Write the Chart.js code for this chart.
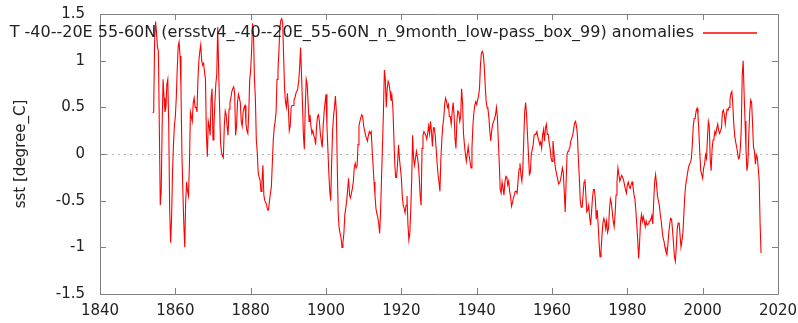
<!DOCTYPE html>
<html>
<head>
<meta charset="utf-8">
<script src="https://cdn.jsdelivr.net/npm/chart.js@4.4.1/dist/chart.umd.min.js"></script>
<style>
  html, body { margin: 0; padding: 0; background: #fff; }
  #wrap { width: 798px; height: 323px; }
</style>
</head>
<body>
<div id="wrap"><canvas id="sstChart"></canvas></div>
<script>
const seriesLabel = 'T -40--20E 55-60N (ersstv4_-40--20E_55-60N_n_9month_low-pass_box_99) anomalies';
const yTitle = 'sst [degree_C]';

// quarterly samples of the low-pass anomaly, one row per year
const firstYear = 1854;
const stepYears = 0.25;
const anomalies = [
  0.44, 0.45, 1.2, 1.42,      // 1854
  1.3, 1.15, 1.1, 0.3,
  -0.55, -0.4, 0.3, 0.8,
  0.6, 0.45, 0.5, 0.75,
  0.8, 0.3, -0.6, -0.95,
  -0.7, -0.2, 0.1, 0.3,
  0.4, 0.6, 0.9, 1.15,        // 1860
  1.2, 1.05, 0.7, 0.0,
  -0.4, -0.75, -1.0, -0.5,
  -0.3, -0.4, -0.45, -0.1,
  0.45, 0.4, 0.35, 0.55,
  0.6, 0.5, 0.5, 0.45,
  0.8, 1.0, 1.1, 1.17,
  1.0, 0.95, 0.97, 0.88,
  0.8, 0.2, -0.03, 0.35,
  0.3, 0.2, 0.6, 0.7,
  0.15, 0.3, 0.55, 0.75,      // 1870
  0.85, 1.36, 0.9, 0.5,
  0.12, 0.02, -0.02, -0.04,
  0.3, 0.46, 0.42, 0.3,
  0.2, 0.48, 0.55, 0.6,
  0.67, 0.7, 0.72, 0.65,
  0.2, 0.3, 0.55, 0.64,
  0.6, 0.55, 0.35, 0.3,
  0.45, 0.5, 0.52, 0.33,
  0.25, 0.22, 0.45, 0.8,
  0.9, 1.1, 1.4, 1.3,         // 1880
  0.8, 0.6, 0.15, 0.02,
  -0.2, -0.25, -0.28, -0.4,
  -0.3, -0.12, -0.44, -0.5,
  -0.52, -0.55, -0.6, -0.6,
  -0.5, -0.42, -0.35, -0.1,
  0.15, 0.28, 0.35, 0.45,
  0.8, 0.9, 1.1, 1.35,
  1.43, 1.45, 1.4, 1.05,
  0.7, 0.55, 0.5, 0.65,
  0.5, 0.25, 0.3, 0.5,        // 1890
  0.52, 0.52, 0.58, 0.6,
  0.65, 0.67, 0.7, 0.78,
  0.92, 1.14, 0.85, 0.55,
  0.2, 0.05, 0.5, 0.8,
  0.75, 0.55, 0.35, 0.42,
  0.3, 0.22, 0.25, 0.2,
  0.17, 0.1, 0.3, 0.4,
  0.42, 0.35, 0.22, 0.14,
  0.07, 0.3, 0.45, 0.55,
  0.64, 0.3, 0.05, -0.2,      // 1900
  -0.4, -0.5, -0.1, 0.25,
  0.4, 0.5, 0.62, 0.45,
  -0.15, -0.65, -0.8, -0.85,
  -0.9, -1.0, -0.95, -0.85,
  -0.65, -0.58, -0.5, -0.38,
  -0.26, -0.44, -0.47, -0.42,
  -0.37, -0.3, -0.15, -0.1,
  -0.15, -0.13, 0.1, 0.3,
  0.35, 0.39, 0.42, 0.4,
  0.3, 0.25, 0.2, 0.17,       // 1910
  0.14, 0.2, 0.24, 0.22,
  0.24, 0.05, -0.12, -0.3,
  -0.44, -0.58, -0.64, -0.68,
  -0.75, -0.85, -0.6, -0.25,
  0.1, 0.45, 0.9, 0.8,
  0.5, 0.7, 0.78, 0.75,
  0.67, 0.57, 0.62, 0.5,
  0.2, -0.1, -0.25, -0.25,
  -0.1, 0.1, -0.05, -0.15,
  -0.25, -0.45, -0.55, -0.58, // 1920
  -0.63, -0.55, -0.45, -0.75,
  -0.92, -0.85, -0.6, -0.28,
  0.2, -0.05, -0.12, -0.05,
  0.03, -0.03, -0.1, -0.25,
  -0.45, -0.55, 0.06, 0.2,
  0.24, 0.22, 0.2, 0.16,
  0.22, 0.3, 0.22, 0.35,
  0.24, 0.08, 0.28, 0.28,
  0.2, 0.05, -0.1, -0.22,
  -0.3, -0.4, -0.05, 0.15,    // 1930
  0.3, 0.38, 0.53, 0.6,
  0.56, 0.5, 0.53, 0.4,
  0.4, 0.32, 0.45, 0.55,
  0.42, 0.17, 0.06, 0.35,
  0.46, 0.45, 0.35, 0.4,
  0.7, 0.55, 0.22, 0.1,
  0.0, -0.08, 0.0, 0.08,
  -0.02, -0.08, -0.15, 0.06,
  0.3, 0.44, 0.52, 0.56,
  0.53, 0.58, 0.62, 0.7,      // 1940
  0.95, 1.08, 1.1, 1.07,
  0.95, 0.75, 0.57, 0.5,
  0.48, 0.39, 0.24, 0.14,
  0.25, 0.32, 0.35, 0.38,
  0.42, 0.5, 0.4, 0.14,
  -0.1, -0.38, -0.42, -0.3,
  -0.37, -0.44, -0.3, -0.24,
  -0.25, -0.33, -0.29, -0.4,
  -0.45, -0.56, -0.52, -0.47,
  -0.44, -0.4, -0.4, -0.42,   // 1950
  -0.28, -0.16, -0.1, -0.22,
  -0.29, -0.17, 0.15, 0.45,
  0.55, 0.42, 0.2, 0.0,
  -0.22, -0.2, 0.0, 0.05,
  0.1, 0.2, 0.21, 0.22,
  0.24, 0.18, 0.14, 0.1,
  0.13, 0.06, 0.2, 0.26,
  0.14, 0.28, 0.32, 0.21,
  0.21, 0.12, 0.06, -0.04,
  -0.08, 0.14, 0.03, -0.1,    // 1960
  -0.17, -0.22, -0.27, -0.32,
  -0.31, -0.28, -0.22, -0.15,
  -0.2, -0.4, -0.62, -0.3,
  0.0, 0.03, 0.05, 0.07,
  0.14, 0.17, 0.2, 0.27,
  0.33, 0.35, 0.3, 0.2,
  -0.05, -0.25, -0.5, -0.57,
  -0.57, -0.44, -0.3, -0.27,
  -0.45, -0.62, -0.6, -0.55,
  -0.68, -0.76, -0.62, -0.47, // 1970
  -0.38, -0.38, -0.48, -0.7,
  -0.6, -0.75, -0.95, -1.1,
  -1.05, -0.88, -0.75, -0.69,
  -0.72, -0.8, -0.72, -0.84,
  -0.8, -0.6, -0.48, -0.52,
  -0.62, -0.72, -0.78, -0.65,
  -0.44, -0.3, -0.15, -0.22,
  -0.29, -0.26, -0.23, -0.25,
  -0.28, -0.33, -0.38, -0.42,
  -0.33, -0.3, -0.35, -0.37,  // 1980
  -0.33, -0.3, -0.35, -0.43,
  -0.48, -0.6, -0.75, -0.92,
  -1.12, -0.95, -0.73, -0.65,
  -0.72, -0.67, -0.72, -0.78,
  -0.72, -0.76, -0.75, -0.72,
  -0.72, -0.7, -0.66, -0.75,
  -0.5, -0.3, -0.22, -0.32,
  -0.45, -0.5, -0.55, -0.65,
  -0.72, -0.82, -0.9, -0.94,
  -1.0, -1.05, -1.08, -0.98,  // 1990
  -0.85, -0.75, -0.69, -0.7,
  -0.82, -0.95, -1.1, -1.15,
  -1.0, -0.8, -0.74, -0.74,
  -0.87, -1.0, -1.0, -0.85,
  -0.65, -0.45, -0.33, -0.27,
  -0.2, -0.14, -0.11, -0.09,
  -0.05, 0.1, 0.3, 0.38,
  0.38, 0.46, 0.49, 0.42,
  0.24, 0.0, -0.18, -0.22,
  -0.26, -0.15, -0.11, -0.01, // 2000
  -0.05, 0.15, 0.35, 0.3,
  -0.05, -0.18, 0.05, 0.15,
  0.17, 0.24, 0.21, 0.28,
  0.32, 0.25, 0.22, 0.25,
  0.28, 0.45, 0.47, 0.42,
  0.32, 0.42, 0.48, 0.47,
  0.5, 0.58, 0.65, 0.67,
  0.53, 0.33, 0.2, 0.13,
  0.08, 0.02, -0.05, -0.04,
  0.06, 0.28, 0.85, 1.0,      // 2010
  0.65, 0.35, 0.05, -0.18,
  -0.1, 0.2, 0.45, 0.58,
  0.55, 0.32, 0.07, 0.03,
  -0.11, -0.01, -0.04, -0.15,
  -0.28, -0.75, -1.06
];

const yearTicks = [1840, 1860, 1880, 1900, 1920, 1940, 1960, 1980, 2000, 2020];
const sstTicks = [-1.5, -1, -0.5, 0, 0.5, 1, 1.5];

const points = anomalies.map((v, i) => ({ x: firstYear + i * stepYears, y: v }));

const FONT = 'DejaVu Sans';
const INK = '#222';
const FRAME = '#808080';
const LINE_RED = '#ff0000';

// keep the plot box fixed: no extra room for overhanging tick labels
function noOverhang(s) {
  s.paddingTop = 0;
  s.paddingBottom = 0;
  s.paddingLeft = 0;
  s.paddingRight = 0;
}

// gnuplot look: dotted zero line, grey border, inward ticks on all sides, key in the top right
const gnuplotFrame = {
  id: 'gnuplotFrame',
  beforeDatasetsDraw(chart) {
    const { ctx, chartArea: a, scales: { y } } = chart;
    const y0 = Math.round(y.getPixelForValue(0)) + 0.5;
    ctx.save();
    ctx.strokeStyle = '#b4b4b4';
    ctx.lineWidth = 1;
    ctx.setLineDash([2, 4]);
    ctx.beginPath();
    ctx.moveTo(a.left, y0);
    ctx.lineTo(a.right, y0);
    ctx.stroke();
    ctx.restore();
  },
  afterDatasetsDraw(chart) {
    const { ctx, chartArea: a, scales: { x, y } } = chart;
    const tick = 6;
    ctx.save();
    ctx.strokeStyle = FRAME;
    ctx.lineWidth = 1;
    ctx.beginPath();
    ctx.rect(Math.round(a.left) + 0.5, Math.round(a.top) + 0.5,
             Math.round(a.right - a.left), Math.round(a.bottom - a.top));
    x.ticks.forEach(t => {
      const px = Math.round(x.getPixelForValue(t.value)) + 0.5;
      ctx.moveTo(px, a.bottom); ctx.lineTo(px, a.bottom - tick);
      ctx.moveTo(px, a.top); ctx.lineTo(px, a.top + tick);
    });
    y.ticks.forEach(t => {
      const py = Math.round(y.getPixelForValue(t.value)) + 0.5;
      ctx.moveTo(a.left, py); ctx.lineTo(a.left + tick, py);
      ctx.moveTo(a.right, py); ctx.lineTo(a.right - tick, py);
    });
    ctx.stroke();

    // key: label text and a sample of the series line
    const keyY = 33;
    ctx.font = '16px "' + FONT + '"';
    ctx.fillStyle = INK;
    ctx.textAlign = 'right';
    ctx.textBaseline = 'middle';
    ctx.fillText(seriesLabel, 694, keyY);
    ctx.beginPath();
    ctx.strokeStyle = LINE_RED;
    ctx.lineWidth = 1.5;
    ctx.moveTo(703, keyY);
    ctx.lineTo(757, keyY);
    ctx.stroke();
    ctx.restore();
  }
};

new Chart(document.getElementById('sstChart'), {
  type: 'line',
  data: {
    datasets: [{
      label: seriesLabel,
      data: points,
      borderColor: LINE_RED,
      borderWidth: 1.1,
      pointRadius: 0,
      tension: 0,
      fill: false
    }]
  },
  options: {
    responsive: true,
    maintainAspectRatio: false,
    animation: false,
    layout: { padding: { top: 14, right: 20, left: 0, bottom: 0 } },
    plugins: {
      legend: { display: false },
      tooltip: { enabled: false }
    },
    scales: {
      x: {
        type: 'linear',
        min: 1840,
        max: 2020,
        afterBuildTicks: s => { s.ticks = yearTicks.map(v => ({ value: v })); },
        afterFit: s => { s.height = 29; noOverhang(s); },
        grid: { display: false, drawTicks: false },
        border: { display: false },
        ticks: {
          padding: 8,
          color: INK,
          font: { family: FONT, size: 15 },
          maxRotation: 0,
          callback: v => String(v)
        }
      },
      y: {
        min: -1.5,
        max: 1.5,
        afterBuildTicks: s => { s.ticks = sstTicks.map(v => ({ value: v })); },
        afterFit: s => { s.width = 100; noOverhang(s); },
        grid: { display: false, drawTicks: false },
        border: { display: false },
        ticks: {
          padding: 15,
          color: INK,
          font: { family: FONT, size: 15 },
          callback: v => String(v)
        },
        title: {
          display: true,
          text: yTitle,
          color: INK,
          font: { family: FONT, size: 15 },
          padding: { top: 12, bottom: 0 }
        }
      }
    }
  },
  plugins: [gnuplotFrame]
});
</script>
</body>
</html>
